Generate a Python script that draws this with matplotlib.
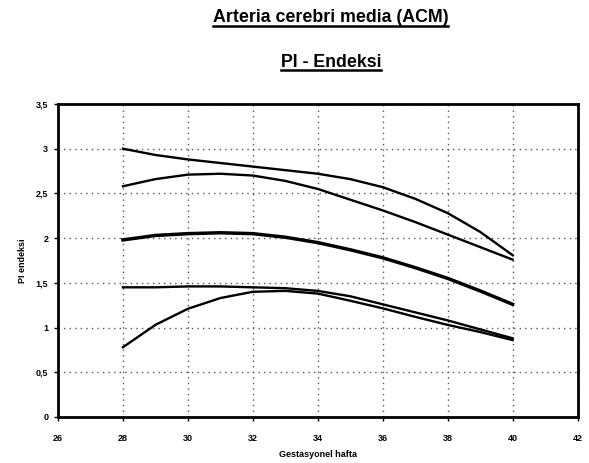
import numpy as np
import matplotlib
matplotlib.use("Agg")
import matplotlib.pyplot as plt
from matplotlib.lines import Line2D

plt.rcParams['font.family'] = ['Liberation Sans', 'DejaVu Sans']

# gestational week
weeks = [28, 29, 30, 31, 32, 33, 34, 35, 36, 37, 38, 39, 40]
# five PI curves
curve1 = [3.00, 2.93, 2.88, 2.84, 2.80, 2.76, 2.72, 2.66, 2.57, 2.44, 2.28, 2.07, 1.81]
curve2 = [2.58, 2.66, 2.71, 2.72, 2.70, 2.64, 2.55, 2.43, 2.31, 2.18, 2.04, 1.90, 1.76]
curve3 = [1.98, 2.03, 2.05, 2.06, 2.05, 2.01, 1.95, 1.87, 1.78, 1.67, 1.55, 1.41, 1.26]
curve4 = [1.45, 1.45, 1.46, 1.46, 1.45, 1.44, 1.41, 1.35, 1.26, 1.17, 1.08, 0.98, 0.88]
curve5 = [0.78, 1.03, 1.21, 1.33, 1.40, 1.41, 1.38, 1.30, 1.215, 1.12, 1.03, 0.95, 0.86]

xticks = [26, 28, 30, 32, 34, 36, 38, 40, 42]
yticks = [0, 0.5, 1, 1.5, 2, 2.5, 3, 3.5]
ytick_labels = ['0', '0,5', '1', '1,5', '2', '2,5', '3', '3,5']

fig = plt.figure(figsize=(5.89, 4.63), dpi=100)
ax = fig.add_axes([0.0985, 0.0994, 0.882, 0.676])

for c, w in ((curve1, 1.7), (curve2, 1.7), (curve3, 2.5), (curve4, 1.7), (curve5, 1.7)):
    ax.plot(weeks, c, color='black', lw=w, solid_joinstyle='round')

ax.set_xlim(26, 42)
ax.set_ylim(0, 3.5)
ax.set_xticks(xticks)
ax.set_xticklabels([str(t) for t in xticks])
ax.set_yticks(yticks)
ax.set_yticklabels(ytick_labels)
ax.tick_params(direction='out', length=3, width=1, labelsize=6.5)
ax.tick_params(axis='x', pad=9)
ax.tick_params(axis='y', pad=4)
for lab in ax.get_xticklabels() + ax.get_yticklabels():
    lab.set_fontweight('bold')

ax.grid(True, color='#555555', linestyle=(0, (1, 3)), linewidth=1)
for s in ax.spines.values():
    s.set_linewidth(2)
    s.set_color('black')

ax.set_xlabel('Gestasyonel hafta', fontsize=6.5, fontweight='bold', labelpad=5)
ax.set_ylabel('PI endeksi', fontsize=6.5, fontweight='bold', labelpad=6)

# underlined titles
t1 = fig.text(0.561, 0.962, 'Arteria cerebri media (ACM)', ha='center', va='center',
              fontsize=12.8, fontweight='bold')
t2 = fig.text(0.562, 0.866, 'PI - Endeksi', ha='center', va='center',
              fontsize=12.8, fontweight='bold')
fig.canvas.draw()
r = fig.canvas.get_renderer()
for t in (t1, t2):
    bb = t.get_window_extent(r).transformed(fig.transFigure.inverted())
    yl = bb.y0 + 0.001
    fig.add_artist(Line2D([bb.x0, bb.x1], [yl, yl], transform=fig.transFigure,
                          color='black', lw=1.8))

fig.savefig('out.png', dpi=100)
